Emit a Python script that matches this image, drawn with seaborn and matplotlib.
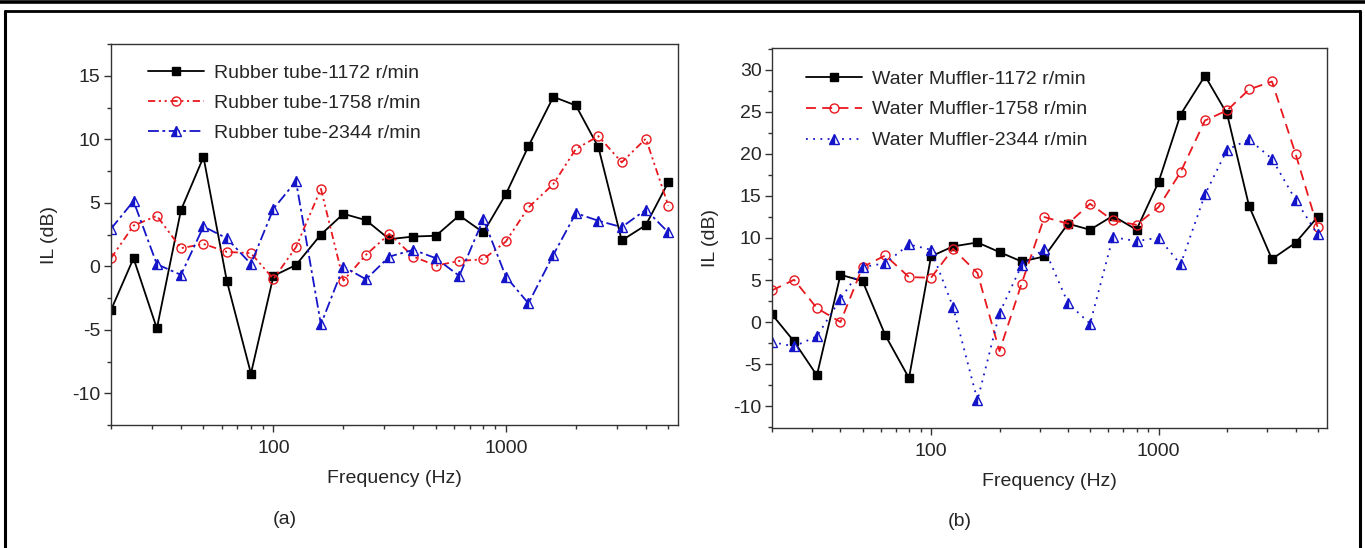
import matplotlib
matplotlib.use("Agg")
import matplotlib.pyplot as plt
from matplotlib.lines import Line2D
from matplotlib.ticker import LogLocator, NullFormatter, FuncFormatter, MultipleLocator
import seaborn as sns
import numpy as np

# ---------------- data ----------------
freq = [20, 25, 31.5, 40, 50, 63, 80, 100, 125, 160, 200, 250, 315, 400, 500,
        630, 800, 1000, 1250, 1600, 2000, 2500, 3150, 4000, 5000]

rubber_1172 = [-3.45, 0.63, -4.9, 4.42, 8.6, -1.16, -8.45, -0.76, 0.1, 2.5, 4.13, 3.63, 2.13,
               2.34, 2.4, 4.0, 2.66, 5.68, 9.45, 13.34, 12.66, 9.37, 2.03, 3.24, 6.63]
rubber_1758 = [0.63, 3.2, 3.97, 1.42, 1.76, 1.13, 1.03, -1.0, 1.5, 6.1, -1.13, 0.9, 2.55,
               0.76, 0.05, 0.42, 0.55, 1.95, 4.63, 6.47, 9.24, 10.24, 8.18, 10.05, 4.76]
rubber_2344 = [2.95, 5.13, 0.16, -0.68, 3.13, 2.2, 0.18, 4.53, 6.7, -4.58, -0.03, -1.03, 0.76,
               1.29, 0.63, -0.76, 3.71, -0.82, -2.92, 0.9, 4.18, 3.58, 3.08, 4.45, 2.66]

water_1172 = [0.91, -2.3, -6.34, 5.63, 4.88, -1.59, -6.66, 7.81, 9.0, 9.47, 8.32, 7.21, 7.8,
              11.7, 10.98, 12.64, 10.98, 16.65, 24.69, 29.29, 24.77, 13.79, 7.49, 9.43, 12.49]
water_1758 = [3.77, 5.03, 1.66, 0.0, 6.54, 7.93, 5.35, 5.27, 8.72, 5.83, -3.45, 4.56, 12.49,
              11.7, 14.07, 12.09, 11.57, 13.67, 17.84, 23.98, 25.17, 27.67, 28.62, 20.02, 11.3]
water_2344 = [-2.38, -2.89, -1.7, 2.77, 6.54, 7.0, 9.23, 8.6, 1.78, -9.31, 1.07, 6.74, 8.72,
              2.26, -0.2, 10.1, 9.63, 10.03, 6.86, 15.18, 20.49, 21.72, 19.42, 14.55, 10.42]

labels_a = ["Rubber tube-1172 r/min", "Rubber tube-1758 r/min", "Rubber tube-2344 r/min"]
labels_b = ["Water Muffler-1172 r/min", "Water Muffler-1758 r/min", "Water Muffler-2344 r/min"]

# ---------------- style ----------------
sns.set_style("ticks")
plt.rcParams['font.family'] = ['Liberation Sans', 'DejaVu Sans']
plt.rcParams['axes.unicode_minus'] = False

BLACK = "#000000"
RED = "#e8181e"
BLUE = "#1414c8"

fig = plt.figure(figsize=(13.65, 5.48), dpi=100)
W, H = 1365, 548

def px_axes(l, t, r, b):
    return fig.add_axes([l / W, 1 - b / H, (r - l) / W, (b - t) / H])

ax_a = px_axes(111, 44, 678, 425)
ax_b = px_axes(772, 48, 1327, 428)

def draw(ax, series, labels, styles):
    for vals, lab, st in zip(series, labels, styles):
        sns.lineplot(x=freq, y=vals, ax=ax, label=lab, color=st['color'],
                     linestyle=st['ls'], linewidth=1.3, marker=st['marker'],
                     markersize=st.get('ms', 6), markerfacecolor=st['mfc'],
                     markeredgecolor=st['color'], markeredgewidth=1.0,
                     fillstyle=st.get('fill', 'full'),
                     markerfacecoloralt=st.get('mfcalt', 'none'))

styles_a = [
    dict(color=BLACK, ls='-', marker='s', mfc=BLACK, ms=6),
    dict(color=RED, ls=(0, (4, 2, 1.2, 2, 1.2, 2)), marker='o', mfc='none', ms=6.5),
    dict(color=BLUE, ls=(0, (6, 2, 1.5, 2)), marker='^', mfc=BLUE, ms=7,
         fill='left', mfcalt='white'),
]
styles_b = [
    dict(color=BLACK, ls='-', marker='s', mfc=BLACK, ms=6),
    dict(color=RED, ls=(0, (5.5, 3.5)), marker='o', mfc='none', ms=6.5),
    dict(color=BLUE, ls=(0, (1, 3)), marker='^', mfc=BLUE, ms=7,
         fill='left', mfcalt='white'),
]

draw(ax_a, [rubber_1172, rubber_1758, rubber_2344], labels_a, styles_a)
draw(ax_b, [water_1172, water_1758, water_2344], labels_b, styles_b)

def fmt_axes(ax, ylim, ymajor, legend_anchor, lspace):
    ax.set_xscale('log')
    ax.set_xlim(20, 5500)
    ax.set_ylim(*ylim)
    ax.xaxis.set_major_locator(LogLocator(base=10, subs=(1.0,)))
    ax.xaxis.set_major_formatter(FuncFormatter(lambda v, p: f"{int(round(v))}"))
    ax.xaxis.set_minor_locator(LogLocator(base=10, subs=np.arange(2, 10)))
    ax.xaxis.set_minor_formatter(NullFormatter())
    ax.yaxis.set_major_locator(MultipleLocator(ymajor))
    ax.yaxis.set_minor_locator(MultipleLocator(ymajor / 2))
    ax.tick_params(axis='both', which='major', direction='out', length=5, width=1,
                   labelsize=14, color='#333333', top=False, right=False)
    ax.tick_params(axis='both', which='minor', direction='out', length=3, width=1,
                   color='#333333', top=False, right=False)
    ax.tick_params(axis='x', which='major', pad=6)
    ax.tick_params(axis='y', which='major', pad=2.5)
    for s in ax.spines.values():
        s.set_visible(True)
        s.set_color('#333333')
        s.set_linewidth(1.0)
    ax.set_xlabel("Frequency (Hz)", fontsize=14, labelpad=9)
    ax.set_ylabel("IL (dB)", fontsize=14, labelpad=10)
    ax.legend(loc='upper left', bbox_to_anchor=legend_anchor, frameon=False,
              fontsize=14, handlelength=2.9, handletextpad=0.5, labelspacing=lspace,
              borderpad=0, borderaxespad=0)

fmt_axes(ax_a, (-12.5, 17.5), 5, (0.065, 0.946), 0.63)
fmt_axes(ax_b, (-12.6, 32.6), 5, (0.061, 0.942), 0.68)

# panel captions
fig.text(285 / W, 1 - 520 / H, "(a)", ha='center', va='center', fontsize=14)
fig.text(960 / W, 1 - 522 / H, "(b)", ha='center', va='center', fontsize=14)

# outer frame lines
fig.add_artist(Line2D([0, 1], [1 - 1.5 / H] * 2, transform=fig.transFigure,
                      color='black', lw=2.6))
fig.add_artist(Line2D([4.5 / W, 1359.5 / W], [1 - 11 / H] * 2, transform=fig.transFigure,
                      color='black', lw=2.0))
fig.add_artist(Line2D([4.5 / W, 4.5 / W], [0, 1 - 11 / H], transform=fig.transFigure,
                      color='black', lw=2.2))
fig.add_artist(Line2D([1359.5 / W] * 2, [0, 1 - 11 / H], transform=fig.transFigure,
                      color='black', lw=2.2))

fig.savefig("out.png", dpi=100)
